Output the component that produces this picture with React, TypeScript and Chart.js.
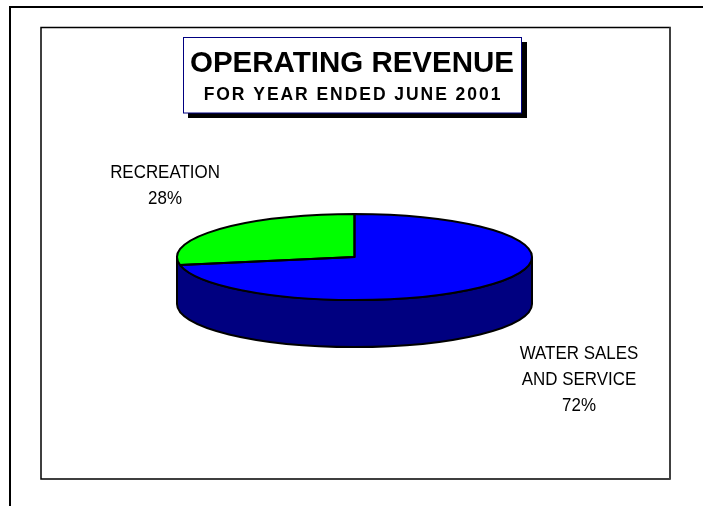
import React, { useEffect, useRef } from "react";
import { Chart, registerables } from "chart.js";

Chart.register(...registerables);

const titleLines = ["OPERATING REVENUE", "FOR YEAR ENDED JUNE 2001"];
const categories = ["WATER SALES\nAND SERVICE", "RECREATION"];
const shares = [72, 28];
const topColors = ["#0000ff", "#00ff00"];
const wallColor = "#000080";

const FONT = '"Liberation Sans", Arial, sans-serif';
const CX = 354.5;
const CY = 257;
const RADIUS = 177.5;
const TILT = 43 / 177.5;
const DEPTH = 47;

// Moves the pie's own circle onto the tilted ellipse of the disc top.
function tiltTransform(ctx: CanvasRenderingContext2D, arc: any) {
  ctx.translate(CX, CY);
  ctx.scale(1, TILT);
  ctx.translate(-arc.x, -arc.y);
}

const framePlugin = {
  id: "frame",
  beforeDraw(chart: any) {
    const { ctx } = chart;
    ctx.save();
    ctx.fillStyle = "#ffffff";
    ctx.fillRect(0, 0, chart.width, chart.height);

    // Outer page rule along the top and left edges
    ctx.strokeStyle = "#000000";
    ctx.lineWidth = 2;
    ctx.beginPath();
    ctx.moveTo(10, 506);
    ctx.lineTo(10, 7);
    ctx.lineTo(703, 7);
    ctx.stroke();

    // Plot frame
    ctx.lineWidth = 1.5;
    ctx.beginPath();
    ctx.moveTo(41, 27.5);
    ctx.lineTo(670, 27.5);
    ctx.lineTo(670, 479);
    ctx.lineTo(41, 479);
    ctx.closePath();
    ctx.stroke();
    ctx.strokeStyle = "#404040";
    ctx.lineWidth = 2;
    ctx.beginPath();
    ctx.moveTo(670, 27.5);
    ctx.lineTo(670, 479);
    ctx.stroke();

    // Title box with its drop shadow
    ctx.fillStyle = "#000000";
    ctx.fillRect(188, 42, 339, 76);
    ctx.fillStyle = "#ffffff";
    ctx.fillRect(183.5, 37, 338, 76);
    ctx.strokeStyle = "#000080";
    ctx.lineWidth = 1;
    ctx.strokeRect(183.5, 37.5, 338, 75.5);

    ctx.fillStyle = "#000000";
    ctx.textAlign = "center";
    ctx.textBaseline = "alphabetic";
    ctx.font = `bold 29.5px ${FONT}`;
    ctx.fillText(titleLines[0], 352, 72);
    ctx.font = `bold 17.5px ${FONT}`;
    ctx.letterSpacing = "1.95px";
    ctx.fillText(titleLines[1], 353, 100);
    ctx.letterSpacing = "0px";
    ctx.restore();
  },
  beforeDatasetsDraw(chart: any) {
    const { ctx } = chart;
    const ry = RADIUS * TILT;

    // Cylinder wall below the disc
    ctx.save();
    ctx.beginPath();
    ctx.ellipse(CX, CY, RADIUS, ry, 0, Math.PI, 0, true);
    ctx.lineTo(CX + RADIUS, CY + DEPTH);
    ctx.ellipse(CX, CY + DEPTH, RADIUS, ry, 0, 0, Math.PI, false);
    ctx.closePath();
    ctx.fillStyle = wallColor;
    ctx.fill();
    ctx.strokeStyle = "#000000";
    ctx.lineWidth = 2;
    ctx.stroke();
    ctx.restore();

    ctx.save();
    tiltTransform(ctx, chart.getDatasetMeta(0).data[0]);
  },
  afterDatasetsDraw(chart: any) {
    const { ctx } = chart;
    ctx.restore();

    // Slice outlines keep an even width, so the path is stroked untilted
    ctx.save();
    ctx.strokeStyle = "#000000";
    ctx.lineWidth = 2;
    ctx.lineJoin = "round";
    for (const arc of chart.getDatasetMeta(0).data) {
      ctx.save();
      tiltTransform(ctx, arc);
      ctx.beginPath();
      ctx.moveTo(arc.x, arc.y);
      ctx.arc(arc.x, arc.y, arc.outerRadius, arc.startAngle, arc.endAngle);
      ctx.closePath();
      ctx.restore();
      ctx.stroke();
    }

    // Category labels with their percentages, set tall and slightly condensed
    const anchors = [
      { x: 579, y: 359 },
      { x: 165, y: 178 },
    ];
    ctx.fillStyle = "#000000";
    ctx.textAlign = "center";
    ctx.textBaseline = "alphabetic";
    ctx.font = `18.5px ${FONT}`;
    categories.forEach((name, i) => {
      const lines = [...name.split("\n"), `${shares[i]}%`];
      lines.forEach((line, j) => {
        ctx.save();
        ctx.translate(anchors[i].x, anchors[i].y + j * 26);
        ctx.scale(0.915, 1);
        ctx.fillText(line, 0, 0);
        ctx.restore();
      });
    });
    ctx.restore();
  },
};

export default function App() {
  const ref = useRef<HTMLCanvasElement>(null);

  useEffect(() => {
    const chart = new Chart(ref.current!, {
      type: "pie",
      data: {
        labels: categories,
        datasets: [
          {
            data: shares,
            backgroundColor: topColors,
            borderWidth: 0,
          },
        ],
      },
      options: {
        responsive: false,
        animation: false,
        radius: RADIUS,
        rotation: 0,
        plugins: {
          legend: { display: false },
          tooltip: { enabled: false },
          title: { display: false },
        },
      },
      plugins: [framePlugin],
    } as any);
    return () => chart.destroy();
  }, []);

  return (
    <div style={{ position: "absolute", left: 0, top: 0, width: 703, height: 506 }}>
      <canvas ref={ref} width={703} height={506} style={{ display: "block" }} />
    </div>
  );
}
